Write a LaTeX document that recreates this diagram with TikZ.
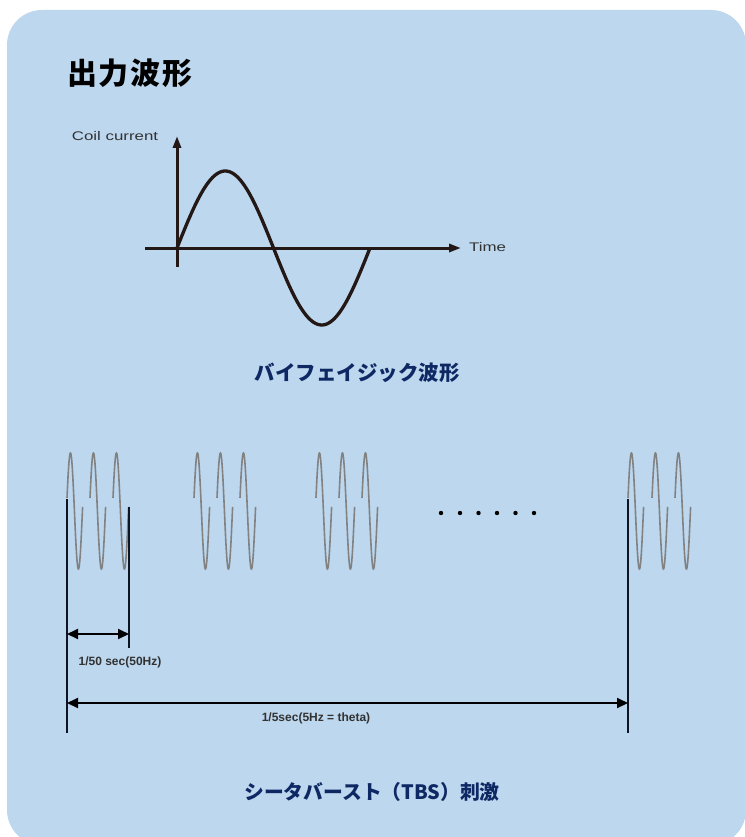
\documentclass[tikz,border=0pt]{standalone}
\usepackage{fontspec}
\setmainfont{Liberation Sans}
\newfontfamily\jpfont{Noto Sans CJK JP}
\newfontfamily\jptitlefont{Noto Sans CJK JP}[LetterSpace=6]
\usetikzlibrary{arrows.meta}
\definecolor{bg}{RGB}{189,215,238}
\definecolor{navy}{RGB}{14,40,100}
\definecolor{ink}{RGB}{35,24,21}
\definecolor{wavegray}{RGB}{130,130,130}
\definecolor{labgray}{RGB}{50,50,50}
\definecolor{vlinec}{RGB}{15,20,35}
\begin{document}
\begin{tikzpicture}[x=1pt,y=-1pt,
  axis/.style={ink, line width=3pt, -{Triangle[length=12pt,width=8pt]}},
  sinecurve/.style={ink, line width=3.3pt},
  burst/.style={wavegray, line width=1.6pt},
  vline/.style={vlinec, line width=2pt},
  dim/.style={black, line width=2pt, {Triangle[length=11pt,width=10pt]}-{Triangle[length=11pt,width=10pt]}},
  jptitle/.style={font=\jptitlefont\bfseries\fontsize{30}{36}\selectfont, text=black, inner sep=0pt},
  jpsub/.style={font=\jpfont\bfseries\fontsize{20.5}{24}\selectfont, text=navy, inner sep=0pt},
  jpsubb/.style={font=\jpfont\bfseries\fontsize{19.8}{24}\selectfont, text=navy, inner sep=0pt},
  axlab/.style={font=\fontsize{12.5}{14}\selectfont, text=labgray, inner sep=0pt},
  dimlab/.style={font=\bfseries\fontsize{12}{14}\selectfont, text=labgray, inner sep=0pt}]
\useasboundingbox (0,0) rectangle (744,837);
\fill[bg, rounded corners=35pt] (7,10) rectangle (746,845);
% title
\node[jptitle, anchor=west] (title) at (67,73) {出力波形};
% biphasic graph
\coordinate (O) at (177,248);
\coordinate (Ytop) at (177,136);
\coordinate (Ybot) at (177,267);
\coordinate (Xl) at (145,248);
\coordinate (Xr) at (461,248);
\draw[axis] (Ybot) -- (Ytop);
\draw[axis] (Xl) -- (Xr);
\draw[sinecurve] plot[domain=0:360, samples=120, smooth] ({177+\x/360*193},{248-77*sin(\x)});
\node[axlab] (ylab) at (115,136) {\scalebox{1.35}[1]{Coil current}};
\node[axlab, anchor=west] (xlab) at (469,247) {\scalebox{1.35}[1]{Time}};
\node[jpsub] (sub1) at (357,373) {バイフェイジック波形};
% theta burst waves
\foreach \b in {67,90,113,194,217,240,316,339,362,628,652,675}
  \draw[burst] plot[domain=13:364, samples=60, smooth] ({\b+(\x-13)/351*15.6},{511-58*sin(\x)});
\foreach \d in {441,460,478.5,497,515.5,534}
  \fill[black] (\d,513) circle (2.2pt);
% markers
\coordinate (Atop) at (67,499);
\coordinate (Abot) at (67,733);
\coordinate (Btop) at (129,507);
\coordinate (Bbot) at (129,648);
\coordinate (Ctop) at (628,499);
\coordinate (Cbot) at (628,733);
\draw[vline] (Atop) -- (Abot);
\draw[vline] (Btop) -- (Bbot);
\draw[vline] (Ctop) -- (Cbot);
\coordinate (s1) at (67,634);
\coordinate (s2) at (129,634);
\coordinate (l1) at (67,703);
\coordinate (l2) at (628,703);
\draw[dim] (s1) -- (s2);
\draw[dim] (l1) -- (l2);
\node[dimlab] (lab1) at (120,662) {1/50 sec(50Hz)};
\node[dimlab] (lab2) at (316,718) {1/5sec(5Hz = theta)};
\node[jpsubb] (sub2) at (372,792) {シータバースト（TBS）刺激};
\end{tikzpicture}
\end{document}
